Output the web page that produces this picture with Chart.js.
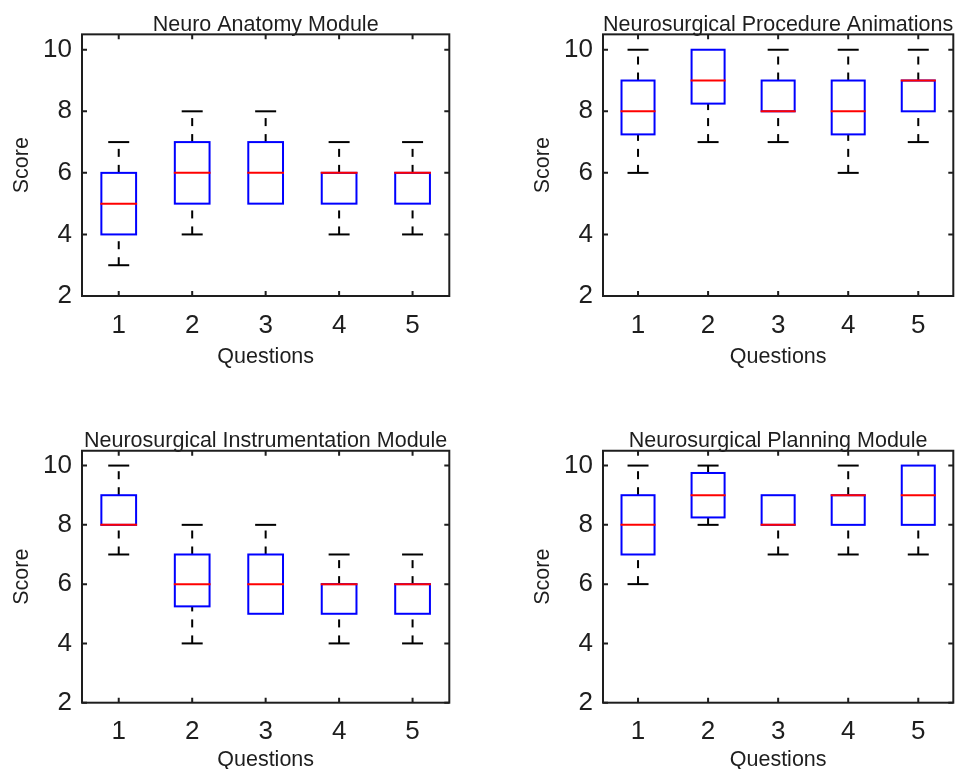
<!DOCTYPE html>
<html>
<head>
<meta charset="utf-8">
<title>Module evaluation scores</title>
<script src="https://cdn.jsdelivr.net/npm/chart.js@4.4.1/dist/chart.umd.min.js"></script>
<style>
  html, body { margin: 0; padding: 0; background: #fff; overflow: hidden; }
  #page { position: relative; width: 955px; height: 769px; overflow: hidden; }
  canvas { position: absolute; }
</style>
</head>
<body>
<div id="page">
  <canvas id="anatomy" width="460" height="370" style="left:0;top:0"></canvas>
  <canvas id="procedure" width="434" height="370" style="left:521px;top:0"></canvas>
  <canvas id="instrument" width="460" height="357" style="left:0;top:416px"></canvas>
  <canvas id="planning" width="434" height="357" style="left:521px;top:416px"></canvas>
</div>
<script>
const QUESTIONS = ['1', '2', '3', '4', '5'];
const SCORE_TICKS = [2, 4, 6, 8, 10];

// five-number summaries per question: min, q1, median, q3, max
const ANATOMY_MIN = [3, 4, 5, 4, 4];
const ANATOMY_Q1 = [4, 5, 5, 5, 5];
const ANATOMY_MED = [5, 6, 6, 6, 6];
const ANATOMY_Q3 = [6, 7, 7, 6, 6];
const ANATOMY_MAX = [7, 8, 8, 7, 7];

const PROCEDURE_MIN = [6, 7, 7, 6, 7];
const PROCEDURE_Q1 = [7.25, 8.25, 8, 7.25, 8];
const PROCEDURE_MED = [8, 9, 8, 8, 9];
const PROCEDURE_Q3 = [9, 10, 9, 9, 9];
const PROCEDURE_MAX = [10, 10, 10, 10, 10];

const INSTRUMENT_MIN = [7, 4, 5, 4, 4];
const INSTRUMENT_Q1 = [8, 5.25, 5, 5, 5];
const INSTRUMENT_MED = [8, 6, 6, 6, 6];
const INSTRUMENT_Q3 = [9, 7, 7, 6, 6];
const INSTRUMENT_MAX = [10, 8, 8, 7, 7];

const PLANNING_MIN = [6, 8, 7, 7, 7];
const PLANNING_Q1 = [7, 8.25, 8, 8, 8];
const PLANNING_MED = [8, 9, 8, 9, 9];
const PLANNING_Q3 = [9, 9.75, 9, 9, 10];
const PLANNING_MAX = [10, 10, 9, 10, 10];

const FONT = '"Liberation Sans", Arial, Helvetica, sans-serif';
const INK = '#1e1e1e';
const BOX_BLUE = '#0000ff';
const MEDIAN_RED = '#ff0000';

// whiskers + caps go under the boxes; boxes, medians and the matlab-style frame on top.
// the bar elements only give the box geometry (x, width), their own border is off
// because chart.js insets it and we want it centred on q1/q3 like matlab does.
const boxplotParts = {
    id: 'boxplotParts',
    beforeDatasetsDraw(chart, args, opts) {
        const { ctx, scales: { x, y } } = chart;
        ctx.save();
        ctx.strokeStyle = '#000';
        ctx.lineWidth = 2;
        QUESTIONS.forEach((q, i) => {
            const px = x.getPixelForValue(i);
            const segs = [[opts.min[i], opts.q1[i]], [opts.q3[i], opts.max[i]]];
            ctx.setLineDash([8, 8]);
            segs.forEach(([lo, hi]) => {
                if (hi <= lo) return;
                ctx.beginPath();
                ctx.moveTo(px, y.getPixelForValue(lo));
                ctx.lineTo(px, y.getPixelForValue(hi));
                ctx.stroke();
            });
            ctx.setLineDash([]);
            // a cap sitting on the box edge is hidden by the box anyway
            const caps = [];
            if (opts.min[i] < opts.q1[i]) caps.push(opts.min[i]);
            if (opts.max[i] > opts.q3[i]) caps.push(opts.max[i]);
            caps.forEach(v => {
                const py = y.getPixelForValue(v);
                ctx.beginPath();
                ctx.moveTo(px - 10.5, py);
                ctx.lineTo(px + 10.5, py);
                ctx.stroke();
            });
        });
        ctx.restore();
    },
    afterDatasetsDraw(chart, args, opts) {
        const { ctx, chartArea: a, scales: { x, y } } = chart;
        const meta = chart.getDatasetMeta(0);
        ctx.save();
        ctx.lineWidth = 2;
        meta.data.forEach((el, i) => {
            const half = el.width / 2;
            const top = y.getPixelForValue(opts.q3[i]);
            const bot = y.getPixelForValue(opts.q1[i]);
            ctx.strokeStyle = BOX_BLUE;
            ctx.strokeRect(el.x - half + 1, top, el.width - 2, bot - top);
            const py = y.getPixelForValue(opts.med[i]);
            ctx.strokeStyle = MEDIAN_RED;
            ctx.beginPath();
            ctx.moveTo(el.x - half, py);
            ctx.lineTo(el.x + half, py);
            ctx.stroke();
        });

        ctx.strokeStyle = INK;
        ctx.strokeRect(a.left, a.top, a.right - a.left, a.bottom - a.top);
        ctx.beginPath();
        SCORE_TICKS.forEach(v => {
            const py = y.getPixelForValue(v);
            ctx.moveTo(a.left, py); ctx.lineTo(a.left + 5, py);
            ctx.moveTo(a.right, py); ctx.lineTo(a.right - 5, py);
        });
        QUESTIONS.forEach((q, i) => {
            const px = x.getPixelForValue(i);
            ctx.moveTo(px, a.top); ctx.lineTo(px, a.top + 5);
            ctx.moveTo(px, a.bottom); ctx.lineTo(px, a.bottom - 5);
        });
        ctx.stroke();
        ctx.restore();
    }
};

function drawPanel(id, title, stats, layout) {
    new Chart(document.getElementById(id), {
        type: 'bar',
        data: {
            labels: QUESTIONS,
            datasets: [{
                data: QUESTIONS.map((q, i) => [stats.q1[i], stats.q3[i]]),
                backgroundColor: 'rgba(0,0,0,0)',
                borderWidth: 0,
                barPercentage: 0.5,
                categoryPercentage: 1
            }]
        },
        options: {
            responsive: false,
            animation: false,
            events: [],
            layout: { padding: { left: 0, right: layout.right, top: 0, bottom: 0 } },
            plugins: {
                legend: { display: false },
                tooltip: { enabled: false },
                title: {
                    display: true,
                    text: title,
                    fullSize: false,
                    color: INK,
                    font: { family: FONT, size: 21.5, weight: 'normal', lineHeight: 0.9 },
                    padding: { top: layout.titleTop, bottom: 0 }
                },
                boxplotParts: stats
            },
            scales: {
                x: {
                    grid: { display: false, drawTicks: false },
                    border: { display: false },
                    ticks: { font: { family: FONT, size: 26 }, color: INK, padding: 14 },
                    title: {
                        display: true, text: 'Questions', color: INK,
                        font: { family: FONT, size: 21.5 }, padding: { top: 0, bottom: 0 }
                    },
                    afterFit(scale) { scale.height = layout.xHeight; }
                },
                y: {
                    min: 2,
                    max: 10.5,
                    afterBuildTicks(scale) { scale.ticks = SCORE_TICKS.map(v => ({ value: v })); },
                    grid: { display: false, drawTicks: false },
                    border: { display: false },
                    ticks: { font: { family: FONT, size: 26 }, color: INK, padding: 10 },
                    title: {
                        display: true, text: 'Score', color: INK,
                        font: { family: FONT, size: 21.5 }, padding: { top: 9.5, bottom: 0 }
                    },
                    afterFit(scale) { scale.width = 82; }
                }
            }
        },
        plugins: [boxplotParts]
    });
}

const TOP_ROW = { titleTop: 15, xHeight: 74 };
const BOTTOM_ROW = { titleTop: 15.4, xHeight: 70.3 };

drawPanel('anatomy', 'Neuro Anatomy Module',
    { min: ANATOMY_MIN, q1: ANATOMY_Q1, med: ANATOMY_MED, q3: ANATOMY_Q3, max: ANATOMY_MAX },
    { ...TOP_ROW, right: 10.7 });
drawPanel('procedure', 'Neurosurgical Procedure Animations',
    { min: PROCEDURE_MIN, q1: PROCEDURE_Q1, med: PROCEDURE_MED, q3: PROCEDURE_Q3, max: PROCEDURE_MAX },
    { ...TOP_ROW, right: 1.7 });
drawPanel('instrument', 'Neurosurgical Instrumentation Module',
    { min: INSTRUMENT_MIN, q1: INSTRUMENT_Q1, med: INSTRUMENT_MED, q3: INSTRUMENT_Q3, max: INSTRUMENT_MAX },
    { ...BOTTOM_ROW, right: 10.7 });
drawPanel('planning', 'Neurosurgical Planning Module',
    { min: PLANNING_MIN, q1: PLANNING_Q1, med: PLANNING_MED, q3: PLANNING_Q3, max: PLANNING_MAX },
    { ...BOTTOM_ROW, right: 1.7 });
</script>
</body>
</html>
